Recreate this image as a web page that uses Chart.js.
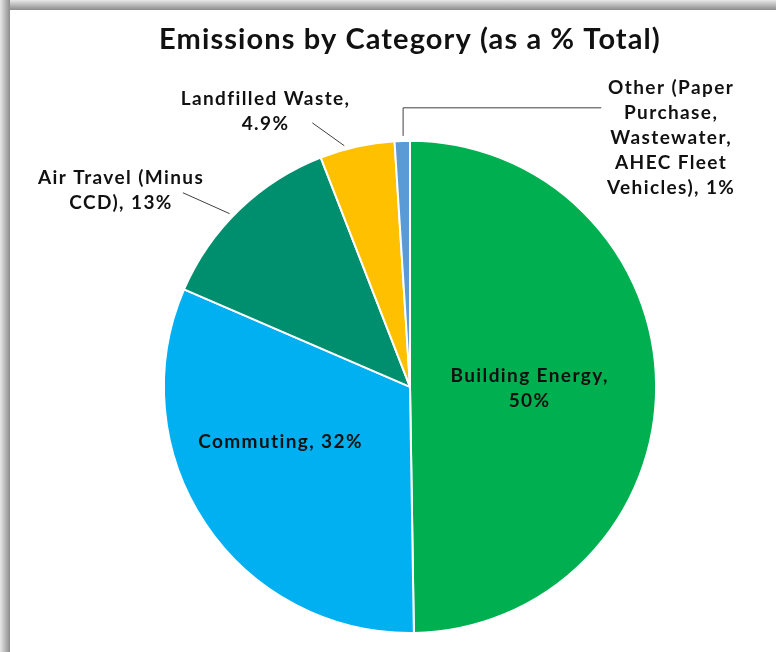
<!DOCTYPE html>
<html>
<head>
<meta charset="utf-8">
<script src="https://cdn.jsdelivr.net/npm/chart.js@4.4.1/dist/chart.umd.min.js"></script>
<style>
  html, body { margin: 0; padding: 0; background: #fff; }
  #wrap { position: relative; width: 776px; height: 652px; overflow: hidden; }
  #edgeTop { position: absolute; left: 0; top: 0; width: 776px; height: 10px;
    background: linear-gradient(to bottom, #e8e8e8, #b0b0b0 60%, #8c8c8c); }
  #edgeLeft { position: absolute; left: 0; top: 0; width: 10px; height: 652px;
    background: linear-gradient(to right, #e8e8e8, #b0b0b0 60%, #8c8c8c); }
  canvas { position: absolute; left: 0; top: 0; }
</style>
</head>
<body>
<div id="wrap">
  <canvas id="pieChart" width="776" height="652"></canvas>
  <div id="edgeTop"></div>
  <div id="edgeLeft"></div>
</div>
<script>
const categories = [
  "Building Energy",
  "Commuting",
  "Air Travel (Minus CCD)",
  "Landfilled Waste",
  "Other (Paper Purchase, Wastewater, AHEC Fleet Vehicles)"
];
const shares = [49.7, 31.7, 12.6, 4.9, 1.0];
const shareText = ["50%", "32%", "13%", "4.9%", "1%"];
const labelLines = [
  ["Building Energy,", "50%"],
  ["Commuting, 32%"],
  ["Air Travel (Minus", "CCD), 13%"],
  ["Landfilled Waste,", "4.9%"],
  ["Other (Paper", "Purchase,", "Wastewater,", "AHEC Fleet", "Vehicles), 1%"]
];
const colors = ["#00B050", "#00B0F0", "#008F6E", "#FFC000", "#5B9BD5"];

// label placement in units of the pie radius, relative to the centre
const labelPos = [
  { x: 0.486, y: 0.004 },
  { x: -0.526, y: 0.223 },
  { x: -1.174, y: -0.80, leader: [[-0.923, -0.789], [-0.733, -0.704]] },
  { x: -0.587, y: -1.12, leader: [[-0.397, -1.073], [-0.267, -0.980]] },
  { x: 1.061, y: -1.01, leader: [[-0.028, -1.020], [-0.028, -1.134], [0.777, -1.134]] }
];

const pieLabels = {
  id: "pieLabels",
  beforeDraw(chart) {
    chart.ctx.letterSpacing = "1.1px";   // wider title lettering
  },
  afterDatasetsDraw(chart) {
    const ctx = chart.ctx;
    const arcs = chart.getDatasetMeta(0).data;
    const cx = arcs[0].x, cy = arcs[0].y, r = arcs[0].outerRadius;
    ctx.save();
    ctx.strokeStyle = "#404040";
    ctx.lineWidth = 1;
    labelPos.forEach((p, i) => {
      if (p.leader) {
        ctx.beginPath();
        p.leader.forEach((pt, k) => {
          const x = cx + pt[0] * r, y = cy + pt[1] * r;
          if (k === 0) ctx.moveTo(x, y); else ctx.lineTo(x, y);
        });
        ctx.stroke();
      }
      const lines = labelLines[i];
      const lh = 25;
      const x = cx + p.x * r;
      const y0 = cy + p.y * r - (lines.length - 1) * lh / 2;
      ctx.fillStyle = "#111";
      ctx.font = "bold 19px Lato";
      ctx.letterSpacing = "1.4px";
      ctx.textAlign = "center";
      ctx.textBaseline = "middle";
      lines.forEach((t, k) => ctx.fillText(t, x, y0 + k * lh));
    });
    ctx.restore();
  }
};

new Chart(document.getElementById("pieChart"), {
  type: "pie",
  data: {
    labels: categories,
    datasets: [{
      data: shares,
      backgroundColor: colors,
      borderColor: "#ffffff",
      borderWidth: 2
    }]
  },
  options: {
    responsive: false,
    devicePixelRatio: 1,
    animation: false,
    layout: { padding: { top: 0, bottom: 18, left: 100, right: 56 } },
    plugins: {
      legend: { display: false },
      tooltip: { enabled: false },
      title: {
        display: true,
        text: "Emissions by Category (as a % Total)",
        color: "#111",
        font: { family: "Lato", size: 29, weight: "bold" },
        padding: { top: 22, bottom: 83 }
      }
    }
  },
  plugins: [pieLabels]
});
</script>
</body>
</html>
